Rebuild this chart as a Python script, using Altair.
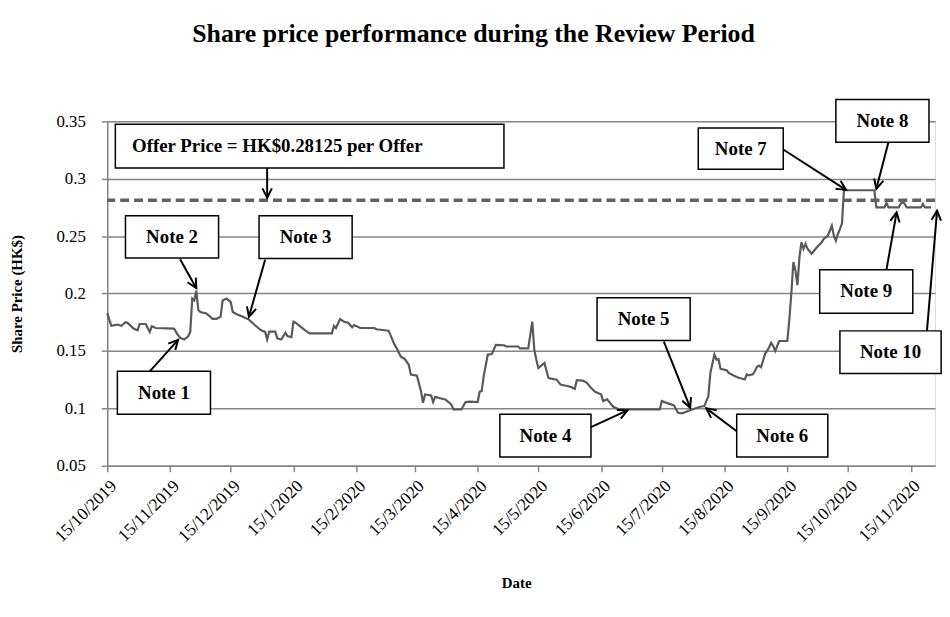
import math
import altair as alt
import pandas as pd

# ---------------- data ----------------
dates = [
    "2019-10-15", "2019-10-17", "2019-10-20", "2019-10-22", "2019-10-24", "2019-10-25", "2019-10-28",
    "2019-10-30", "2019-10-31", "2019-11-03", "2019-11-05", "2019-11-06", "2019-11-08", "2019-11-17",
    "2019-11-19", "2019-11-20", "2019-11-22", "2019-11-24", "2019-11-25", "2019-11-26", "2019-11-27",
    "2019-11-28", "2019-11-29", "2019-11-30", "2019-12-03", "2019-12-06", "2019-12-08", "2019-12-10",
    "2019-12-11", "2019-12-13", "2019-12-15", "2019-12-16", "2019-12-18", "2019-12-21", "2019-12-24",
    "2019-12-27", "2019-12-30", "2020-01-01", "2020-01-02", "2020-01-03", "2020-01-06", "2020-01-07",
    "2020-01-09", "2020-01-11", "2020-01-12", "2020-01-14", "2020-01-15", "2020-01-16", "2020-01-18",
    "2020-01-20", "2020-01-21", "2020-01-23", "2020-02-03", "2020-02-04", "2020-02-05", "2020-02-07",
    "2020-02-09", "2020-02-11", "2020-02-13", "2020-02-14", "2020-02-17", "2020-02-24", "2020-02-25",
    "2020-02-28", "2020-03-02", "2020-03-05", "2020-03-06", "2020-03-08", "2020-03-10", "2020-03-12",
    "2020-03-13", "2020-03-16", "2020-03-18", "2020-03-19", "2020-03-20", "2020-03-23", "2020-03-24",
    "2020-03-25", "2020-03-27", "2020-03-30", "2020-03-31", "2020-04-02", "2020-04-03", "2020-04-07",
    "2020-04-09", "2020-04-11", "2020-04-15", "2020-04-16", "2020-04-17", "2020-04-18", "2020-04-20",
    "2020-04-22", "2020-04-24", "2020-04-28", "2020-04-29", "2020-05-05", "2020-05-06", "2020-05-10",
    "2020-05-12", "2020-05-13", "2020-05-14", "2020-05-15", "2020-05-16", "2020-05-18", "2020-05-20",
    "2020-05-24", "2020-05-26", "2020-05-28", "2020-05-31", "2020-06-02", "2020-06-03", "2020-06-06",
    "2020-06-08", "2020-06-10", "2020-06-12", "2020-06-14", "2020-06-15", "2020-06-16", "2020-06-18",
    "2020-06-20", "2020-06-21", "2020-06-24", "2020-07-14", "2020-07-15", "2020-07-17", "2020-07-21",
    "2020-07-23", "2020-07-25", "2020-07-28", "2020-07-30", "2020-08-03", "2020-08-05", "2020-08-07",
    "2020-08-08", "2020-08-10", "2020-08-11", "2020-08-12", "2020-08-13", "2020-08-16", "2020-08-17",
    "2020-08-20", "2020-08-22", "2020-08-25", "2020-08-26", "2020-08-27", "2020-08-29", "2020-08-30",
    "2020-08-31", "2020-09-01", "2020-09-02", "2020-09-04", "2020-09-06", "2020-09-07", "2020-09-08",
    "2020-09-09", "2020-09-11", "2020-09-15", "2020-09-16", "2020-09-17", "2020-09-18", "2020-09-19",
    "2020-09-20", "2020-09-21", "2020-09-22", "2020-09-23", "2020-09-24", "2020-09-25", "2020-09-27",
    "2020-09-29", "2020-09-30", "2020-10-02", "2020-10-03", "2020-10-05", "2020-10-07", "2020-10-08",
    "2020-10-09", "2020-10-10", "2020-10-11", "2020-10-12", "2020-10-13", "2020-10-28", "2020-10-29",
    "2020-11-02", "2020-11-03", "2020-11-04", "2020-11-09", "2020-11-10", "2020-11-11", "2020-11-12",
    "2020-11-13", "2020-11-20", "2020-11-21", "2020-11-22", "2020-11-25",
]
prices = [
    0.183, 0.172, 0.173, 0.172, 0.175, 0.1745, 0.1695,
    0.168, 0.1735, 0.1735, 0.1665, 0.1715, 0.170, 0.1695,
    0.1637, 0.1616, 0.160, 0.1628, 0.1666, 0.1956, 0.194,
    0.2025, 0.1855, 0.184, 0.1826, 0.178, 0.178, 0.1797,
    0.194, 0.1956, 0.1927, 0.184, 0.182, 0.1797, 0.1773,
    0.1724, 0.168, 0.1666, 0.160, 0.1669, 0.1669, 0.161,
    0.160, 0.166, 0.163, 0.162, 0.1755, 0.1746, 0.1718,
    0.169, 0.1677, 0.1654, 0.1654, 0.1718, 0.170, 0.1778,
    0.1755, 0.1746, 0.1706, 0.1726, 0.170, 0.170, 0.1689,
    0.1683, 0.1677, 0.1553, 0.1524, 0.1452, 0.1429, 0.138,
    0.1294, 0.1285, 0.115, 0.1049, 0.1121, 0.1112, 0.1055,
    0.110, 0.109, 0.1078, 0.1063, 0.1035, 0.0991, 0.0991,
    0.1055, 0.1058, 0.1055, 0.1145, 0.115, 0.128, 0.1467,
    0.1473, 0.1553, 0.155, 0.1539, 0.1539, 0.1522, 0.1522,
    0.1755, 0.151, 0.1424, 0.1352, 0.1366, 0.1395, 0.1265,
    0.125, 0.1207, 0.1199, 0.1187, 0.117, 0.1245, 0.1242,
    0.1222, 0.1179, 0.1144, 0.113, 0.1122, 0.1064, 0.1078,
    0.1035, 0.1014, 0.0991, 0.0991, 0.1064, 0.105, 0.1026,
    0.0962, 0.0957, 0.0977, 0.0991, 0.1014, 0.102, 0.1107,
    0.131, 0.147, 0.1426, 0.143, 0.1345, 0.1333, 0.131,
    0.1281, 0.1267, 0.1252, 0.1296, 0.1287, 0.1296, 0.1325,
    0.1362, 0.1372, 0.1358, 0.1473, 0.153, 0.1573, 0.1544,
    0.150, 0.1587, 0.1587, 0.1774, 0.2003, 0.2275, 0.2203,
    0.2074, 0.2318, 0.2447, 0.239, 0.2433, 0.239, 0.2347,
    0.239, 0.241, 0.2447, 0.2476, 0.2504, 0.259, 0.2504,
    0.2461, 0.2519, 0.2562, 0.261, 0.29, 0.29, 0.275,
    0.275, 0.279, 0.275, 0.275, 0.278, 0.28, 0.278,
    0.275, 0.275, 0.278, 0.275, 0.275,
]

offer_price = 0.28125

x_domain = ["2019-10-15", "2020-11-27"]
y_domain = [0.05, 0.35]
y_ticks = [0.05, 0.1, 0.15, 0.2, 0.25, 0.3, 0.35]
x_ticks = ["2019-10-15", "2019-11-15", "2019-12-15", "2020-01-15", "2020-02-15", "2020-03-15",
           "2020-04-15", "2020-05-15", "2020-06-15", "2020-07-15", "2020-08-15", "2020-09-15",
           "2020-10-15", "2020-11-15"]

# annotation boxes
note_text = ["Offer Price = HK$0.28125 per Offer", "Note 1", "Note 2", "Note 3", "Note 4", "Note 5",
             "Note 6", "Note 7", "Note 8", "Note 9", "Note 10"]
box_x1 = ["2019-10-19", "2019-10-20", "2019-10-24", "2019-12-29", "2020-04-26", "2020-06-13",
          "2020-08-21", "2020-08-02", "2020-10-09", "2020-10-01", "2020-10-11"]
box_x2 = ["2020-04-28", "2019-12-05", "2019-12-09", "2020-02-13", "2020-06-10", "2020-07-29",
          "2020-10-05", "2020-09-13", "2020-11-24", "2020-11-16", "2020-11-30"]
box_y1 = [0.3474, 0.1323, 0.2678, 0.2678, 0.0948, 0.1963, 0.0948, 0.3442, 0.3690, 0.2208, 0.1675]
box_y2 = [0.3093, 0.0948, 0.2309, 0.2306, 0.0576, 0.1591, 0.0576, 0.3082, 0.3318, 0.1828, 0.1303]
# the offer-price text sits left of its box centre
text_x_override = {0: "2020-01-07"}

# arrows (from box to the price line)
arrow_x1 = ["2020-01-02", "2019-11-05", "2019-11-20", "2020-01-01", "2020-06-10", "2020-07-16",
            "2020-08-21", "2020-09-13", "2020-11-04", "2020-11-03", "2020-11-23"]
arrow_y1 = [0.3093, 0.1323, 0.2298, 0.2295, 0.0836, 0.1582, 0.0801, 0.3255, 0.3321, 0.2208, 0.1675]
arrow_x2 = ["2020-01-02", "2019-11-19", "2019-11-28", "2019-12-24", "2020-06-28", "2020-07-29",
            "2020-08-06", "2020-10-14", "2020-10-29", "2020-11-08", "2020-11-28"]
arrow_y2 = [0.2834, 0.1597, 0.2047, 0.1798, 0.0983, 0.1006, 0.1000, 0.2903, 0.2912, 0.2707, 0.2721]

# ---------------- layout ----------------
W, H = 834, 347
FONT = "Liberation Serif"
GREY = "#868686"


def dt(s):
    t = pd.Timestamp(s)
    return alt.DateTime(year=t.year, month=t.month, date=t.day, utc=True)


xscale = alt.Scale(type="utc", domain=[dt(x_domain[0]), dt(x_domain[1])])
yscale = alt.Scale(domain=y_domain, nice=False, zero=False)

xaxis = alt.Axis(
    values=[dt(s) for s in x_ticks],
    labelExpr="utcFormat(datum.value, '%-d/%-m/%Y')",
    labelAngle=315, labelFont=FONT, labelFontSize=17.5, labelColor="black", labelPadding=5,
    labelOverlap=False, labelBound=False, labelFlush=False,
    grid=False, tickSize=6, tickColor=GREY, tickWidth=1.5, domainColor=GREY, domainWidth=1.5,
    titleFont=FONT, titleFontSize=15, titleFontWeight="bold", titleColor="black",
    titleX=412, titleY=118, titleBaseline="middle", titleAlign="center",
)
yaxis = alt.Axis(
    values=y_ticks, format=".2~f",
    labelFont=FONT, labelFontSize=17, labelColor="black", labelPadding=16,
    tickSize=6, tickColor=GREY, tickWidth=1.5, domainColor=GREY, domainWidth=1.5,
    grid=True, gridColor=GREY, gridWidth=1.5,
    titleFont=FONT, titleFontSize=15, titleFontWeight="bold", titleColor="black",
    titleX=-91, titleY=H / 2, titleAngle=270, titleBaseline="middle", titleAlign="center",
)

X = alt.X("date:T", scale=xscale, axis=xaxis, title="Date")
Y = alt.Y("price:Q", scale=yscale, axis=yaxis, title="Share Price (HK$)")

df_price = pd.DataFrame({"date": dates, "price": prices})

df_box = pd.DataFrame({"label": note_text, "date": box_x1, "date2": box_x2,
                       "price": box_y1, "price2": box_y2})
mid = pd.to_datetime(df_box["date"]) + (pd.to_datetime(df_box["date2"]) - pd.to_datetime(df_box["date"])) / 2
for i, s in text_x_override.items():
    mid.iloc[i] = pd.Timestamp(s)
df_text = pd.DataFrame({"label": note_text,
                        "date": mid.dt.strftime("%Y-%m-%dT%H:%M:%SZ"),
                        "price": (df_box["price"] + df_box["price2"]) / 2})

df_arrow = pd.DataFrame({"date": arrow_x1, "date2": arrow_x2, "price": arrow_y1, "price2": arrow_y2})

# heads: direction of the arrow on screen
days_total = (pd.Timestamp(x_domain[1]) - pd.Timestamp(x_domain[0])).days
ppd = W / days_total
ppv = H / (y_domain[1] - y_domain[0])
angles = []
for a, b, c, d in zip(arrow_x1, arrow_x2, arrow_y1, arrow_y2):
    dx = (pd.Timestamp(b) - pd.Timestamp(a)).days * ppd
    dy = -(d - c) * ppv
    angles.append(math.degrees(math.atan2(dx, -dy)) % 360)
df_head = pd.DataFrame({"date": arrow_x2, "price": arrow_y2, "ang": angles})

line = alt.Chart(df_price).mark_line(color="#595959", strokeWidth=2.2).encode(x=X, y=Y)

offer = alt.Chart(pd.DataFrame({"price": [offer_price]})).mark_rule(
    color="#616161", strokeWidth=3.5, strokeDash=[9, 5]
).encode(y=Y)

boxes = alt.Chart(df_box).mark_rect(fill="white", stroke="black", strokeWidth=1.5).encode(
    x=X, x2="date2:T", y=Y, y2="price2:Q")

texts = alt.Chart(df_text).mark_text(
    font=FONT, fontSize=19, fontWeight="bold", color="black", align="center", baseline="middle"
).encode(x=X, y=Y, text="label:N")

arrows = alt.Chart(df_arrow).mark_rule(color="black", strokeWidth=2).encode(
    x=X, x2="date2:T", y=Y, y2="price2:Q")

heads = alt.Chart(df_head).mark_point(
    shape="M-0.55,1.1L0,0L0.55,1.1", filled=False, stroke="black", strokeWidth=2,
    size=300, opacity=1
).encode(x=X, y=Y, angle=alt.Angle("ang:Q", scale=None))

chart = alt.layer(line, offer, boxes, texts, arrows, heads).properties(
    width=W, height=H,
    title=alt.TitleParams(
        "Share price performance during the Review Period",
        font=FONT, fontSize=26, fontWeight="bold", color="black",
        anchor="middle", offset=52, dx=-48,
    ),
    autosize=alt.AutoSizeParams(type="none"),
    padding={"left": 100, "top": 112, "right": 7, "bottom": 130},
).configure_view(stroke=None).configure(background="white")

chart.save("out.html", embed_options={"renderer": "svg", "actions": False})
